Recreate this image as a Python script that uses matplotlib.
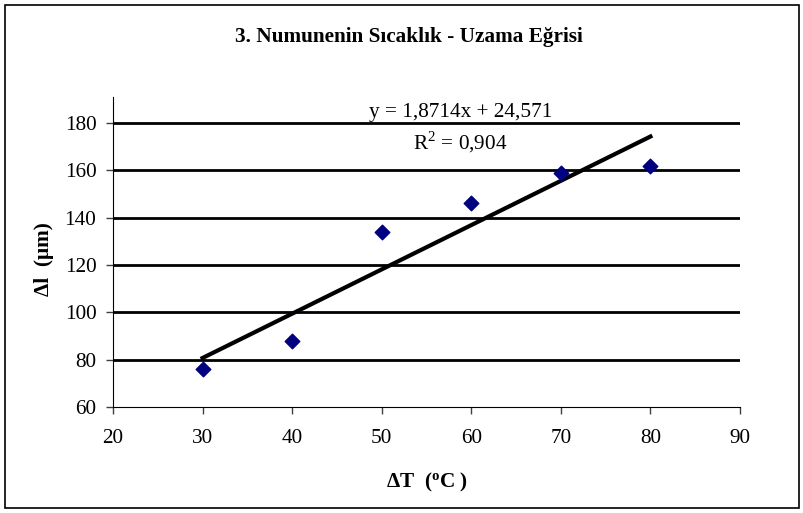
import numpy as np
import matplotlib
matplotlib.use("Agg")
from matplotlib import pyplot as plt
from matplotlib.patches import Rectangle

plt.rcParams['font.family'] = ['Liberation Serif', 'DejaVu Serif']
plt.rcParams['mathtext.fontset'] = 'custom'
plt.rcParams['mathtext.rm'] = 'Liberation Serif'
plt.rcParams['mathtext.bf'] = 'Liberation Serif:bold'

# sıcaklık farkı ve uzama ölçümleri
dT = [30, 40, 50, 60, 70, 80]
dl = [76, 88, 134, 146, 159, 162]
egim = 1.8714
kesisim = 24.571
r2 = 0.904
x_ticks = [20, 30, 40, 50, 60, 70, 80, 90]
y_ticks = [60, 80, 100, 120, 140, 160, 180]

fs = 15.3

fig = plt.figure(figsize=(8.04, 5.13), dpi=100)
fig.patches.append(Rectangle((0.006, 0.01), 0.988, 0.98, transform=fig.transFigure,
                             fill=False, edgecolor="black", linewidth=1.2))
ax = fig.add_axes([0.1405, 0.2066, 0.7799, 0.6044])

for y in y_ticks[1:]:
    ax.axhline(y, color="black", linewidth=2, zorder=1)

ax.scatter(dT, dl, marker="D", s=55, color="#000080", zorder=3)
xx = np.array([dT[0], dT[-1]])
ax.plot(xx, egim * xx + kesisim, color="black", linewidth=3, zorder=2)

ax.set_xlim(20, 90)
ax.set_ylim(60, 191)
ax.set_xticks(x_ticks)
ax.set_yticks(y_ticks)
ax.tick_params(direction="out", length=5, width=1, color="#404040", labelsize=fs)
ax.tick_params(axis="x", pad=11)
ax.tick_params(axis="y", pad=7)
ax.spines["top"].set_visible(False)
ax.spines["right"].set_visible(False)

ax.text(58.8, 184.6, "y = 1,8714x + 24,571", ha="center", va="center", fontsize=fs)
ax.text(58.8, 172, r"R$^2$ = 0,904", ha="center", va="center", fontsize=fs)

fig.text(0.508, 0.928, "3. Numunenin Sıcaklık - Uzama Eğrisi", ha="center", va="center",
         fontsize=fs, fontweight="bold")
fig.text(0.531, 0.059, r"ΔT  ($\mathbf{^o}$C )", ha="center", va="center",
         fontsize=fs, fontweight="bold")
fig.text(0.055, 0.495, "Δl  (μm)", ha="center", va="center", rotation=90,
         fontsize=fs, fontweight="bold")

fig.savefig("out.png", dpi=100)
